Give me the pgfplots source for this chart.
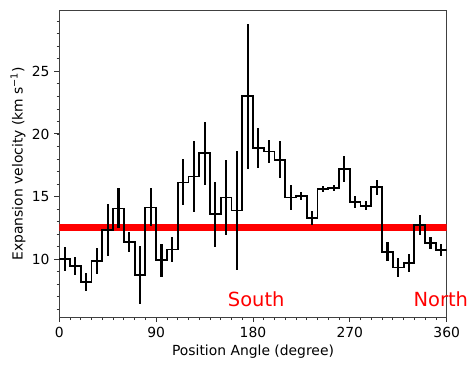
\documentclass[border=0pt]{standalone}
\usepackage{fontspec}
\setmainfont{DejaVu Sans}
\usepackage{pgfplots}
\pgfplotsset{compat=1.18}
\usepackage{pgfplotstable}

% step levels, one per 10 degree bin (left edge), last row closes the step
\pgfplotstableread{
lo v
0 10.00
10 9.46
20 8.16
30 9.84
40 12.34
50 14.05
60 11.38
70 8.72
80 14.13
90 9.92
100 10.77
110 16.13
120 16.60
130 18.45
140 13.60
150 14.93
160 13.89
170 23.00
180 18.85
190 18.60
200 17.94
210 14.93
220 15.04
230 13.30
240 15.60
250 15.68
260 17.20
270 14.56
280 14.26
290 15.76
300 10.58
310 9.33
320 9.70
330 12.72
340 11.28
350 10.74
360 10.74
}\steps

% bin centres with errors
\pgfplotstableread{
c v e
5 10.00 0.95
15 9.46 0.72
25 8.16 0.71
35 9.84 1.03
45 12.34 2.10
55 14.05 1.60
65 11.38 0.77
75 8.72 2.30
85 14.13 1.52
95 9.92 1.32
105 10.77 1.00
115 16.13 1.83
125 16.60 2.80
135 18.45 2.50
145 13.60 2.60
155 14.93 3.00
165 13.89 4.76
175 23.00 5.80
185 18.85 1.60
195 18.60 0.88
205 17.94 1.47
215 14.93 1.02
225 15.04 0.32
235 13.30 0.57
245 15.60 0.27
255 15.68 0.27
265 17.20 1.03
275 14.56 0.48
285 14.26 0.37
295 15.76 0.60
305 10.58 0.76
315 9.33 0.79
325 9.70 0.73
335 12.72 0.80
345 11.28 0.45
355 10.74 0.48
}\bins

\begin{document}
\begin{tikzpicture}
\begin{axis}[
  name=ax,
  scale only axis,
  width=278.9pt, height=221.3pt,
  xmin=0, xmax=360, ymin=5.35, ymax=29.9,
  xtick={0,90,180,270,360},
  minor xtick={0,10,...,360},
  ytick={10,15,20,25},
  minor ytick={6,7,...,29},
  tick pos=left,
  tick align=outside,
  major tick length=3.5pt, minor tick length=2pt,
  every tick/.style={black!80, line width=0.7pt},
  every minor tick/.style={black!80, line width=0.55pt},
  axis line style={black!75, line width=0.7pt},
  ticklabel style={font=\fontsize{10}{12}\selectfont},
  /pgf/number format/assume math mode=true,
  xlabel={Position Angle (degree)},
  ylabel={Expansion velocity (km s\textsuperscript{−1})},
  label style={font=\fontsize{10}{12}\selectfont},
  every axis x label/.style={at={(axis description cs:0.5,-0.112)}, anchor=center},
  every axis y label/.style={at={(axis description cs:-0.1065,0.5)}, rotate=90, anchor=center},
  clip mode=individual,
]
\addplot[red, line width=4.8pt, forget plot] coordinates {(0,12.53) (360,12.53)};
\addplot[const plot, mark=none, black, line width=1.3pt] table[x=lo, y=v] {\steps};
\addplot[black, only marks, mark=*, mark size=0pt, line width=1.5pt,
  error bars/.cd, y dir=both, y explicit, error mark=none,
  error bar style={black, solid, line width=1.5pt}]
  table[x=c, y=v, y error=e] {\bins};
\node[anchor=base west, red, inner sep=0pt, font=\fontsize{14}{17}\selectfont] at (axis cs:156.5,6.25) {South};
\node[anchor=base west, red, inner sep=0pt, font=\fontsize{14}{17}\selectfont] at (axis cs:329,6.25) {North};
\end{axis}
\pgfresetboundingbox
\path ([shift={(-42.7pt,-37.9pt)}]ax.south west) rectangle ([shift={(16.8pt,7.2pt)}]ax.north east);
\end{tikzpicture}
\end{document}
